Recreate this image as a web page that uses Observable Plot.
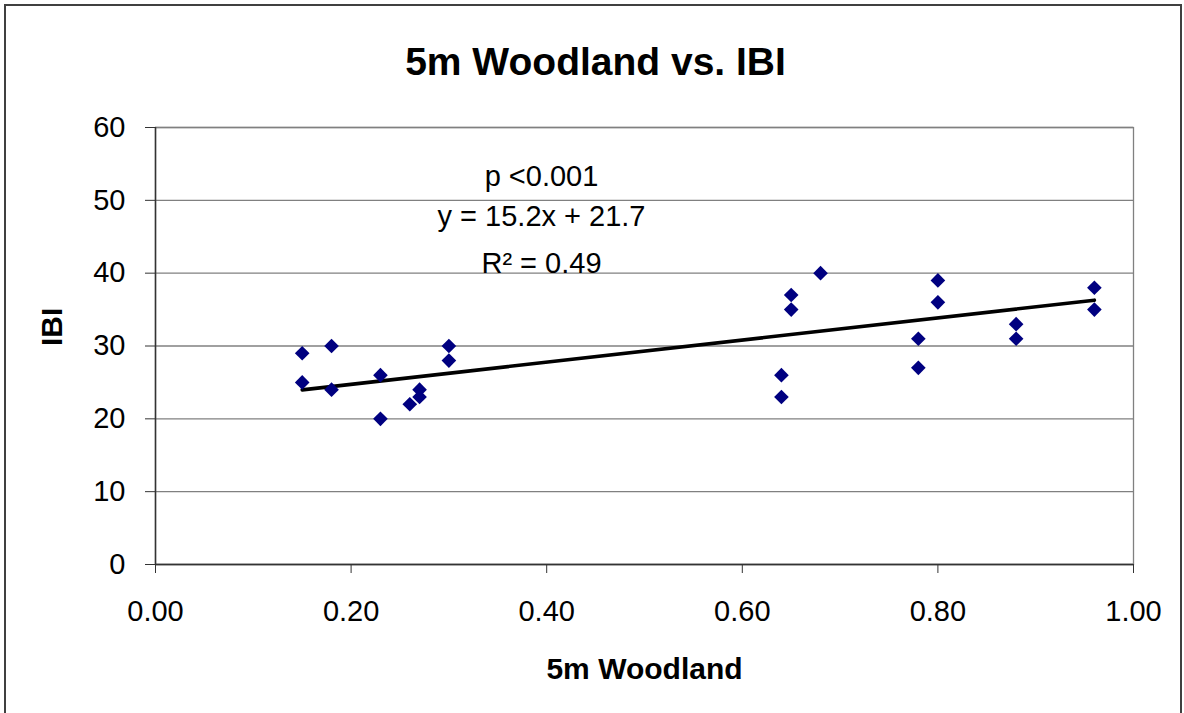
<!DOCTYPE html>
<html>
<head>
<meta charset="utf-8">
<script src="https://cdn.jsdelivr.net/npm/d3@7"></script>
<script src="https://cdn.jsdelivr.net/npm/@observablehq/plot@0.6"></script>
<style>
  html, body { margin: 0; padding: 0; background: #fff; overflow: hidden; }
  #wrap { position: relative; width: 1184px; height: 713px; }
  #border { position: absolute; left: 4px; top: 4px; width: 1174px; height: 730px;
            border: 2px solid #404040; pointer-events: none; }
  svg { display: block; }
</style>
</head>
<body>
<div id="wrap"><div id="chart"></div><div id="border"></div></div>
<script>
// Data
const woodland = [0.15, 0.15, 0.18, 0.18, 0.23, 0.23, 0.26, 0.27, 0.27, 0.30, 0.30,
                  0.64, 0.64, 0.65, 0.65, 0.68, 0.78, 0.78, 0.80, 0.80, 0.88, 0.88, 0.96, 0.96];
const ibi      = [29, 25, 30, 24, 26, 20, 22, 24, 23, 30, 28,
                  26, 23, 37, 35, 40, 31, 27, 39, 36, 33, 31, 38, 35];
const slope = 15.2, intercept = 21.7;
const trendRange = [0.15, 0.96];
const xTicks = [0, 0.2, 0.4, 0.6, 0.8, 1.0];
const yTicks = [0, 10, 20, 30, 40, 50, 60];
const titleText = "5m Woodland vs. IBI";
const xLabel = "5m Woodland";
const yLabel = "IBI";
const annotation = ["p <0.001", "y = 15.2x + 21.7", "R\u00B2 = 0.49"];

const points = woodland.map((x, i) => ({x, y: ibi[i]}));
const trend = trendRange.map(x => ({x, y: slope * x + intercept}));

const font = "'Liberation Sans', Arial, Helvetica, sans-serif";

const chart = Plot.plot({
  width: 1184,
  height: 713,
  marginLeft: 155,
  marginRight: 51,
  marginTop: 127,
  marginBottom: 149,
  style: {fontFamily: font, background: "transparent", color: "#000"},
  x: {domain: [0, 1], ticks: xTicks},
  y: {domain: [0, 60], ticks: yTicks},
  marks: [
    Plot.gridY(yTicks, {stroke: "#808080", strokeOpacity: 1, strokeWidth: 1.3}),
    Plot.frame({stroke: "#808080", strokeWidth: 1.3}),
    Plot.ruleX([0], {stroke: "#333", strokeWidth: 1.5}),
    Plot.ruleY([0], {stroke: "#333", strokeWidth: 1.5}),
    Plot.axisX(xTicks, {tickFormat: d3.format(".2f"), tickSize: 9, tickPadding: 27,
      fontSize: 29, stroke: "#333", label: null}),
    Plot.axisY(yTicks, {tickSize: 10, tickPadding: 20, fontSize: 29, stroke: "#333", label: null}),
    Plot.line(trend, {x: "x", y: "y", stroke: "#000", strokeWidth: 3.6}),
    Plot.dot(points, {x: "x", y: "y", symbol: "diamond2", r: 6.6, fill: "#000080", stroke: "none"}),
    Plot.text([titleText], {frameAnchor: "top", dx: -49, dy: -65, fontSize: 39, fontWeight: "bold", lineAnchor: "middle"}),
    Plot.text([xLabel], {frameAnchor: "bottom", dy: 105, fontSize: 30, fontWeight: "bold", lineAnchor: "middle"}),
    Plot.text([yLabel], {frameAnchor: "left", dx: -103, rotate: -90, fontSize: 30, fontWeight: "bold", lineAnchor: "middle"}),
    Plot.text([annotation[0]], {frameAnchor: "top", dx: -103, dy: 49, fontSize: 29, lineAnchor: "middle"}),
    Plot.text([annotation[1]], {frameAnchor: "top", dx: -103, dy: 89, fontSize: 29, lineAnchor: "middle"}),
    Plot.text([annotation[2]], {frameAnchor: "top", dx: -103, dy: 136, fontSize: 29, lineAnchor: "middle"})
  ]
});
document.getElementById("chart").appendChild(chart);
</script>
</body>
</html>
